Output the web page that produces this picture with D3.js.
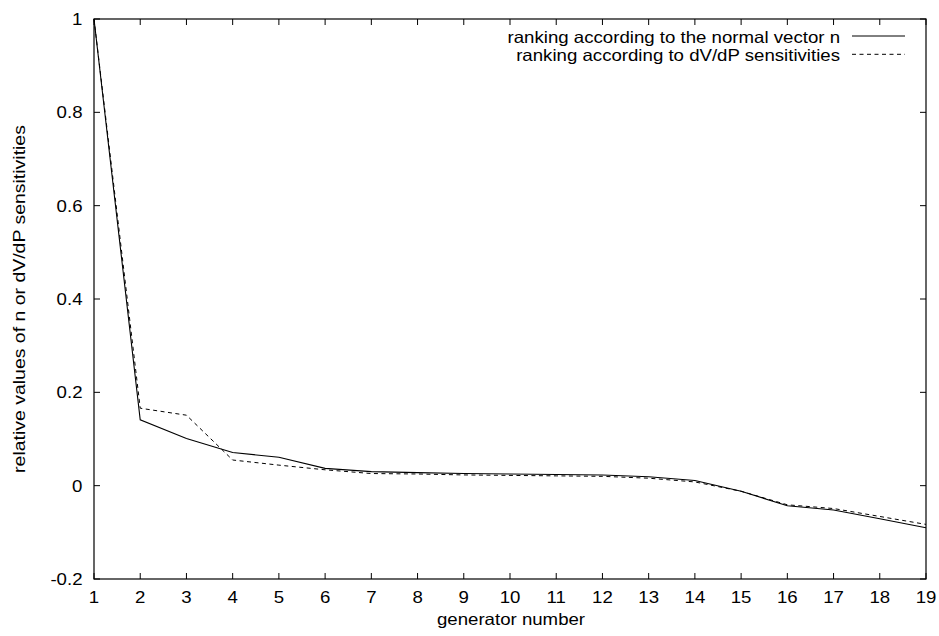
<!DOCTYPE html>
<html><head><meta charset="utf-8">
<script src="https://cdn.jsdelivr.net/npm/d3@7"></script>
<style>body{margin:0;background:#fff}svg{display:block}text{font-family:"Liberation Sans",Arial,sans-serif;font-size:16.5px;fill:#000}</style>
</head><body><svg id="c" width="939" height="636"></svg>
<script>
const generators = [1,2,3,4,5,6,7,8,9,10,11,12,13,14,15,16,17,18,19];
const normalVector = [1,0.141,0.101,0.071,0.061,0.037,0.030,0.028,0.026,0.025,0.024,0.023,0.019,0.011,-0.012,-0.043,-0.052,-0.071,-0.090];
const dvdp = [1,0.166,0.151,0.055,0.044,0.034,0.026,0.025,0.023,0.022,0.021,0.020,0.016,0.008,-0.012,-0.041,-0.049,-0.066,-0.083];
const xTicks = generators;
const yTicks = [-0.2,0,0.2,0.4,0.6,0.8,1];
const yTickLabels = ["-0.2","0","0.2","0.4","0.6","0.8","1"];
const seriesNames = ["ranking according to the normal vector n","ranking according to dV/dP sensitivities"];

const svg = d3.select("#c");
const L=94, R=926, T=19, B=579;
const x = d3.scaleLinear().domain([1,19]).range([L,R]);
const y = d3.scaleLinear().domain([-0.2,1]).range([B,T]);
const tl = 6, SX = 1.13;
const g = svg.append("g");
function txt(px, py, s, anchor, rot, sx){
  const t = `translate(${px},${py})` + (rot ? ` rotate(${rot})` : "") + ` scale(${sx||SX},1)`;
  return g.append("text").attr("transform", t).attr("text-anchor", anchor).text(s);
}
xTicks.forEach(v=>{
  g.append("line").attr("x1",x(v)).attr("x2",x(v)).attr("y1",B).attr("y2",B-tl).attr("stroke","#000");
  g.append("line").attr("x1",x(v)).attr("x2",x(v)).attr("y1",T).attr("y2",T+tl).attr("stroke","#000");
  txt(x(v), B+24, v, "middle");
});
yTicks.forEach((v,i)=>{
  g.append("line").attr("x1",L).attr("x2",L+tl).attr("y1",y(v)).attr("y2",y(v)).attr("stroke","#000");
  g.append("line").attr("x1",R).attr("x2",R-tl).attr("y1",y(v)).attr("y2",y(v)).attr("stroke","#000");
  txt(L-11.5, y(v)+6, yTickLabels[i], "end");
});
g.append("rect").attr("x",L).attr("y",T).attr("width",R-L).attr("height",B-T).attr("fill","none").attr("stroke","#000").attr("stroke-width",1.2);

const line = d3.line().x((d,i)=>x(generators[i])).y(d=>y(d));
g.append("path").datum(normalVector).attr("d",line).attr("fill","none").attr("stroke","#000").attr("stroke-width",1.1);
g.append("path").datum(dvdp).attr("d",line).attr("fill","none").attr("stroke","#000").attr("stroke-width",1).attr("stroke-dasharray","4,3.5");

const lx1=852, lx2=905;
const lineYs=[36,54.3], textYs=[42.7,60.7];
[0,1].forEach(i=>{
  txt(840, textYs[i], seriesNames[i], "end");
  g.append("line").attr("x1",lx1).attr("x2",lx2).attr("y1",lineYs[i]).attr("y2",lineYs[i]).attr("stroke","#000").attr("stroke-dasharray",i?"4,3.5":null);
});
txt(511, 625, "generator number", "middle");
txt(25, (T+B)/2, "relative values of n or dV/dP sensitivities", "middle", -90, 1.18);
</script></body></html>
